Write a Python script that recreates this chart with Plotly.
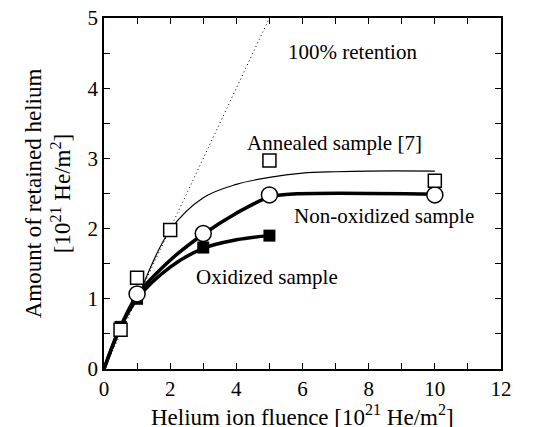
import plotly.graph_objects as go

# Measured data points
fluence_nonox = [1, 3, 5, 10]
retained_nonox = [1.07, 1.93, 2.48, 2.48]

fluence_ox = [0.5, 1, 3, 5]
retained_ox = [0.6, 1.0, 1.73, 1.9]

fluence_ann = [0.5, 1, 2, 5, 10]
retained_ann = [0.56, 1.3, 1.98, 2.97, 2.68]

# Curves
curve_nonox_x = [0, 0.5, 1, 2, 3, 4, 5, 5.6, 10]
curve_nonox_y = [0, 0.6, 1.05, 1.55, 1.92, 2.22, 2.45, 2.49, 2.49]

curve_ox_x = [0, 0.5, 1, 2, 3, 4, 5]
curve_ox_y = [0, 0.6, 1.0, 1.45, 1.72, 1.84, 1.9]

curve_ann_x = [1.1, 2, 3, 4, 5, 6, 7, 8, 10]
curve_ann_y = [1.1, 1.98, 2.44, 2.63, 2.73, 2.79, 2.81, 2.82, 2.82]

full_x = [0, 5]
full_y = [0, 5]

font_family = "Liberation Serif"

fig = go.Figure()
fig.add_trace(go.Scatter(x=full_x, y=full_y, mode="lines",
                         line=dict(color="black", width=1, dash="1px,3px"), showlegend=False))
fig.add_trace(go.Scatter(x=curve_ann_x, y=curve_ann_y, mode="lines", line_shape="spline",
                         line=dict(color="black", width=1.2), showlegend=False))
fig.add_trace(go.Scatter(x=curve_ox_x, y=curve_ox_y, mode="lines", line_shape="spline",
                         line=dict(color="black", width=3.5), showlegend=False))
fig.add_trace(go.Scatter(x=curve_nonox_x, y=curve_nonox_y, mode="lines", line_shape="spline",
                         line=dict(color="black", width=3.5), showlegend=False))
fig.add_trace(go.Scatter(x=fluence_ox, y=retained_ox, mode="markers",
                         marker=dict(symbol="square", size=12, color="black"), showlegend=False))
fig.add_trace(go.Scatter(x=fluence_nonox, y=retained_nonox, mode="markers",
                         marker=dict(symbol="circle", size=16, color="white",
                                     line=dict(color="black", width=1.5)), showlegend=False))
fig.add_trace(go.Scatter(x=fluence_ann, y=retained_ann, mode="markers",
                         marker=dict(symbol="square", size=13, color="white",
                                     line=dict(color="black", width=1.5)), showlegend=False))

annots = [
    ("100% retention", 7.5, 4.52),
    ("Annealed sample [7]", 6.98, 3.22),
    ("Non-oxidized sample", 8.46, 2.18),
    ("Oxidized sample", 4.93, 1.31),
]
for t, x, y in annots:
    fig.add_annotation(x=x, y=y, text=t, showarrow=False,
                       font=dict(family=font_family, size=21, color="black"))

# x-axis title placed as paper annotation below the tick labels
fig.add_annotation(x=0.5, xref="paper", y=0, yref="paper", yanchor="middle", yshift=-46,
                   text="Helium ion fluence [10<sup>21</sup> He/m<sup>2</sup>]", showarrow=False,
                   font=dict(family=font_family, size=23, color="black"))

axis_common = dict(showline=True, linecolor="black", linewidth=1.5, mirror="allticks",
                   ticks="inside", ticklen=6, tickwidth=1, tickcolor="black",
                   showgrid=False, zeroline=False, automargin=False,
                   ticklabeloverflow="allow",
                   tickfont=dict(family=font_family, size=21, color="black"))

fig.update_xaxes(range=[0, 12], dtick=2, tick0=0,
                 minor=dict(dtick=1, ticks="inside", ticklen=6, tickcolor="black", showgrid=False),
                 **axis_common)
fig.update_yaxes(range=[0, 5], dtick=1, tick0=0,
                 minor=dict(dtick=0.5, ticks="inside", ticklen=6, tickcolor="black", showgrid=False),
                 title=dict(text="Amount of retained helium<br>[10<sup>21</sup> He/m<sup>2</sup>]",
                            font=dict(family=font_family, size=23, color="black"), standoff=10),
                 **axis_common)

fig.update_layout(width=540, height=427, plot_bgcolor="white", paper_bgcolor="white",
                  font=dict(family=font_family, color="black"),
                  margin=dict(l=104, r=39, t=18, b=58))

fig.write_html("out.html", config={"displayModeBar": False},
               post_script="document.body.style.margin='0';document.body.style.overflow='hidden';")
